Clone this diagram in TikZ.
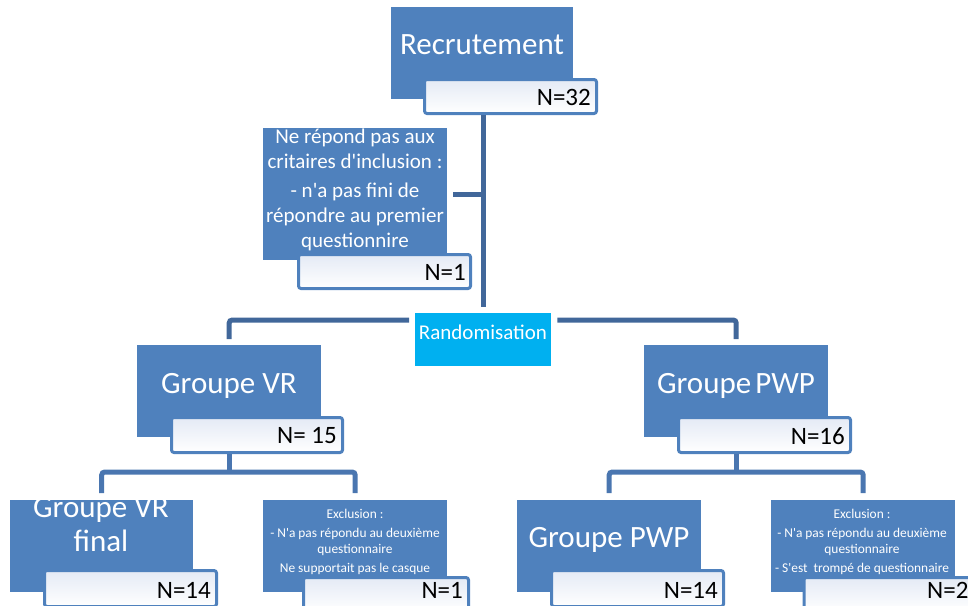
\documentclass[tikz,border=0pt]{standalone}
\usepackage{fontspec}
\setmainfont{Carlito}
\newcommand{\ap}{\textquotesingle}
\definecolor{boxblue}{HTML}{4F81BD}
\definecolor{linedark}{HTML}{41679A}
\definecolor{linelight}{HTML}{4A76B0}
\definecolor{nlight}{HTML}{E4EAF5}
\definecolor{cyanbox}{HTML}{00B0F0}
\begin{document}
\begin{tikzpicture}[x=1pt,y=-1pt,
  bluebox/.style={fill=boxblue, draw=none, anchor=north west, inner sep=0pt},
  cyanrect/.style={fill=cyanbox, draw=none, anchor=north west, inner sep=0pt},
  nbox/.style={draw=boxblue, line width=3pt, rounded corners=2.5pt, top color=nlight, bottom color=white, inner sep=0pt, anchor=center},
  bigtxt/.style={text=white, font=\fontsize{31}{34}\selectfont, align=center, inner sep=0pt},
  midtxt/.style={text=white, font=\fontsize{21}{25}\selectfont, align=center, inner sep=0pt},
  smalltxt/.style={text=white, font=\fontsize{13.4}{16.5}\selectfont, align=center, inner sep=0pt},
  randtxt/.style={text=white, font=\fontsize{21}{24}\selectfont, inner sep=0pt},
  ntxt/.style={text=black, font=\fontsize{25}{30}\selectfont, inner sep=0pt},
  connD/.style={draw=linedark, line width=5pt, rounded corners=3pt},
  connL/.style={draw=linelight, line width=5pt, rounded corners=3pt},
]
\useasboundingbox (0,0) rectangle (968,605);
\clip (0,0) rectangle (968,605);

% ---- level 0
\node[bluebox, minimum width=182pt, minimum height=92pt] (rec) at (391,7) {};
\node[nbox, minimum width=172pt, minimum height=34pt] (recN) at (510.5,96.5) {};
\node[bigtxt] (recT) at (482,45) {Recrutement};
\node[ntxt, anchor=east] (recNT) at (591,97) {N=32};

% ---- exclusion 1
\node[bluebox, minimum width=184pt, minimum height=132pt] (exc1) at (263,128) {};
\node[nbox, minimum width=172pt, minimum height=34pt] (exc1N) at (384.5,271.5) {};
\node[midtxt, anchor=north] (exc1T) at (355,129) {Ne répond pas aux\\critaires d\ap inclusion :\\[4pt]- n\ap a pas fini de\\répondre au premier\\questionnire};
\node[ntxt, anchor=east] (exc1NT) at (466,272) {N=1};

% ---- randomisation
\node[cyanrect, minimum width=136pt, minimum height=53pt] (rand) at (415,313) {};
\node[randtxt] (randT) at (483,332) {Randomisation};

% ---- level 1
\node[bluebox, minimum width=184pt, minimum height=92pt] (gvr) at (137,345) {};
\node[nbox, minimum width=171pt, minimum height=35pt] (gvrN) at (257,435) {};
\node[bigtxt] (gvrT) at (229,386) {Groupe VR};
\node[ntxt, anchor=east] (gvrNT) at (337,436) {N= 15};

\node[bluebox, minimum width=184pt, minimum height=92pt] (gpwp) at (644,345) {};
\node[nbox, minimum width=172pt, minimum height=35pt] (gpwpN) at (764.5,435) {};
\node[bigtxt] (gpwpT) at (736,386) {Groupe\hspace{-3pt} PWP};
\node[ntxt, anchor=east] (gpwpNT) at (845,436) {N=16};

% ---- level 2
\node[bluebox, minimum width=183pt, minimum height=92pt] (vrf) at (10,500) {};
\node[nbox, minimum width=172pt, minimum height=36pt] (vrfN) at (130.5,588.5) {};
\node[bigtxt] (vrfT) at (101,525) {Groupe VR\\final};
\node[ntxt, anchor=east] (vrfNT) at (211,590) {N=14};

\node[bluebox, minimum width=184pt, minimum height=92pt] (exc2) at (263,500) {};
\node[smalltxt, anchor=north] (exc2T) at (355,509) {Exclusion :\\[2pt]- N\ap a pas répondu au deuxième\\questionnaire\\[2pt]Ne supportait pas le casque};
\node[nbox, minimum width=165pt, minimum height=34pt] (exc2N) at (386,594.5) {};
\node[ntxt, anchor=east] (exc2NT) at (463,590) {N=1};

\node[bluebox, minimum width=184pt, minimum height=92pt] (pwp2) at (517,500) {};
\node[nbox, minimum width=172pt, minimum height=36pt] (pwp2N) at (637.5,588.5) {};
\node[bigtxt] (pwp2T) at (609,540) {Groupe PWP};
\node[ntxt, anchor=east] (pwp2NT) at (718,590) {N=14};

\node[bluebox, minimum width=184pt, minimum height=92pt] (exc3) at (771,500) {};
\node[smalltxt, anchor=north] (exc3T) at (862,509) {Exclusion :\\[2pt]- N\ap a pas répondu au deuxième\\questionnaire\\[2pt]- S\ap est\ \ trompé de questionnaire};
\node[nbox, minimum width=184pt, minimum height=34pt] (exc3N) at (896,594.5) {};
\node[ntxt, anchor=west] (exc3NT) at (927,590) {N=2};

% ---- connectors
\coordinate (rbar) at (483,320);
\coordinate (lbar) at (0,472);
\draw[connD, shorten >=6pt] (rand.north |- recN.south) -- (rand.north);
\draw[connD, shorten <=6pt] (exc1.east) -- (exc1.east -| rand.north);
\draw[connD, shorten <=6pt, shorten >=6pt] (rand.west |- rbar) -- (gvr.north |- rbar) -- (gvr.north);
\draw[connD, shorten <=6pt, shorten >=6pt] (rand.east |- rbar) -- (gpwp.north |- rbar) -- (gpwp.north);

\draw[connL] (gvr.south |- gvrN.south) -- (gvr.south |- lbar);
\draw[connL, shorten <=7pt, shorten >=7pt] (vrf.north) -- (vrf.north |- lbar) -- (exc2.north |- lbar) -- (exc2.north);
\draw[connL] (gpwp.south |- gpwpN.south) -- (gpwp.south |- lbar);
\draw[connL, shorten <=7pt, shorten >=7pt] (pwp2.north) -- (pwp2.north |- lbar) -- (exc3.north |- lbar) -- (exc3.north);
\end{tikzpicture}
\end{document}
